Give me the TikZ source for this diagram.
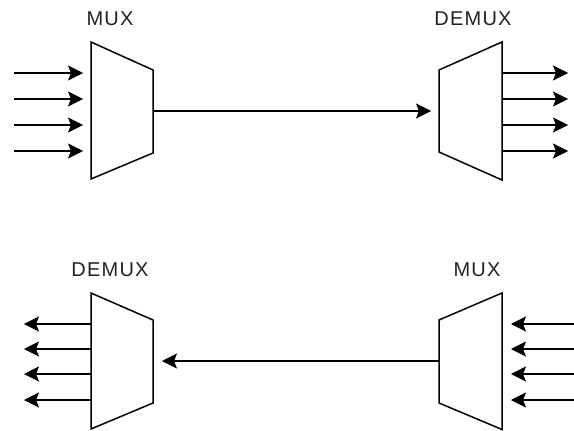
\documentclass[tikz,border=0pt]{standalone}
\usetikzlibrary{arrows.meta}
\usepackage{fontspec}
\setmainfont{Liberation Sans}
\newfontfamily\lblfont[LetterSpace=6]{Liberation Sans}
\definecolor{lbl}{HTML}{222222}
\begin{document}
\begin{tikzpicture}[x=1pt,y=-1pt,
  box/.style={draw=black,line width=1.5pt,line join=miter},
  wire/.style={draw=black,line width=1.7pt},
  sig/.style={wire,-{Stealth[length=15pt,width=15pt,inset=3pt,fill=black,line width=0.8pt]}},
  lab/.style={text=lbl,font=\lblfont\fontsize{20}{22}\selectfont,inner sep=0pt}]
\useasboundingbox (0,0) rectangle (574,431);
% shapes
\path[box] (91,42) -- (153,70) -- (153,153) -- (91,179) -- cycle;
\path[box] (502,42) -- (439,70) -- (439,152) -- (502,180) -- cycle;
\path[box] (91,293) -- (153,320) -- (153,403) -- (91,429) -- cycle;
\path[box] (502,293) -- (439,320) -- (439,403) -- (502,429.5) -- cycle;
% labels
\node[lab] (l1) at (110,19) {MUX};
\node[lab] (l2) at (473,19) {DEMUX};
\node[lab] (l3) at (110,270) {DEMUX};
\node[lab] (l4) at (477,270) {MUX};
% coordinates
\coordinate (m1out) at (153,111);
\coordinate (d1in) at (431,111);
\coordinate (m2out) at (439,361);
\coordinate (d2tip) at (162,361);
\draw[sig] (m1out) -- (d1in);
\draw[sig] (m2out) -- (d2tip);
\foreach \y/\i in {73/1,99/2,125/3,151/4}{
  \coordinate (ia\i) at (14,\y);
  \coordinate (ib\i) at (83,\y);
  \coordinate (oa\i) at (502,\y);
  \coordinate (ob\i) at (568,\y);
  \draw[sig] (ia\i) -- (ib\i);
  \draw[sig] (oa\i) -- (ob\i);
}
\foreach \y/\i in {324/1,349/2,374/3,400/4}{
  \coordinate (pa\i) at (91,\y);
  \coordinate (pb\i) at (24,\y);
  \coordinate (qa\i) at (574,\y);
  \coordinate (qb\i) at (511,\y);
  \draw[sig] (pa\i) -- (pb\i);
  \draw[sig] (qa\i) -- (qb\i);
}
\end{tikzpicture}
\end{document}
